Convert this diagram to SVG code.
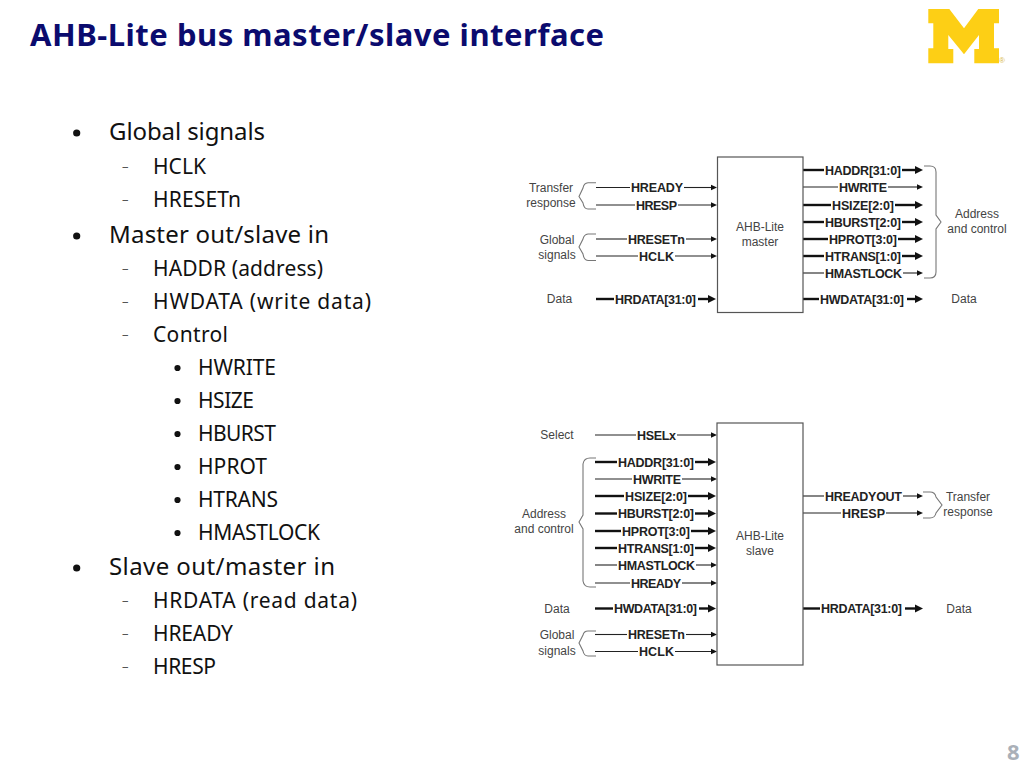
<svg xmlns="http://www.w3.org/2000/svg" width="1024" height="768" viewBox="0 0 1024 768">
<style>
.title{font:bold 31px "Noto Sans","DejaVu Sans",sans-serif;fill:#0b0b6e}
.l1{font:24px "Noto Sans","DejaVu Sans",sans-serif;fill:#111}
.l2{font:21px "Noto Sans","DejaVu Sans",sans-serif;fill:#111}
.dash{font:13px "Noto Sans",sans-serif;fill:#555}
.sig{font:bold 12.5px "Liberation Sans",Arial,sans-serif;fill:#222;text-anchor:middle}
.side{font:12px "Liberation Sans",Arial,sans-serif;fill:#444;text-anchor:middle}
.thin{stroke:#222;stroke-width:1.1;fill:none}
.thick{stroke:#111;stroke-width:2.4;fill:none}
.brace{stroke:#777;stroke-width:1.1;fill:none}
.box{fill:#fff;stroke:#555;stroke-width:1.2}
.thin.a{marker-end:url(#hs)}
.thick.a{marker-end:url(#hb)}
.pg{font:bold 22px "Noto Sans",sans-serif;fill:#aab0b8}
.b1{fill:#111}
</style>
<defs>
<marker id="hs" markerUnits="userSpaceOnUse" markerWidth="7" markerHeight="7" refX="0" refY="3.5" orient="auto"><path d="M0 .8L6 3.5L0 6.2Z" fill="#111"/></marker>
<marker id="hb" markerUnits="userSpaceOnUse" markerWidth="9" markerHeight="9" refX="0" refY="4.5" orient="auto"><path d="M0 .5L8 4.5L0 8.5Z" fill="#111"/></marker>
</defs>
<rect width="1024" height="768" fill="#fff"/>
<text class="title" x="30" y="46" textLength="574" lengthAdjust="spacing">AHB-Lite bus master/slave interface</text>
<g id="logo"><polygon fill="#fdcf15" points="928.3,9 949.3,9 964,28.3 978.3,9 999,9 999,23.3 994,23.3 994,48.3 999,48.3 999,63.3 974.3,63.3 974.3,49 979,49 979,35 964,54.3 948.3,35 948.3,49 953.3,49 953.3,63.3 928.3,63.3 928.3,48.3 933.3,48.3 933.3,23.3 928.3,23.3"/><text x="1002" y="63" text-anchor="middle" font-family="Liberation Sans, sans-serif" font-size="8" fill="#d9b84a">®</text></g>
<g id="bullets">
<circle class="b1" cx="76.700" cy="133" r="3.600"/><text class="l1" x="109" y="140" textLength="156">Global signals</text>
<text class="dash" x="122" y="170.500">–</text><text class="l2" x="153" y="174" textLength="53">HCLK</text>
<text class="dash" x="122" y="203.500">–</text><text class="l2" x="153" y="207" textLength="88">HRESETn</text>
<circle class="b1" cx="76.700" cy="236" r="3.600"/><text class="l1" x="109" y="243" textLength="220">Master out/slave in</text>
<text class="dash" x="122" y="272.500">–</text><text class="l2" x="153" y="276" textLength="170">HADDR (address)</text>
<text class="dash" x="122" y="305.500">–</text><text class="l2" x="153" y="309" textLength="218">HWDATA (write data)</text>
<text class="dash" x="122" y="338.500">–</text><text class="l2" x="153" y="342" textLength="75">Control</text>
<circle class="b1" cx="177.500" cy="368" r="3.100"/><text class="l2" x="198" y="375" textLength="78">HWRITE</text>
<circle class="b1" cx="177.500" cy="401" r="3.100"/><text class="l2" x="198" y="408" textLength="56">HSIZE</text>
<circle class="b1" cx="177.500" cy="434" r="3.100"/><text class="l2" x="198" y="441" textLength="78">HBURST</text>
<circle class="b1" cx="177.500" cy="467" r="3.100"/><text class="l2" x="198" y="474" textLength="69">HPROT</text>
<circle class="b1" cx="177.500" cy="500" r="3.100"/><text class="l2" x="198" y="507" textLength="80">HTRANS</text>
<circle class="b1" cx="177.500" cy="533" r="3.100"/><text class="l2" x="198" y="540" textLength="122">HMASTLOCK</text>
<circle class="b1" cx="76.700" cy="568" r="3.600"/><text class="l1" x="109" y="575" textLength="226">Slave out/master in</text>
<text class="dash" x="122" y="604.500">–</text><text class="l2" x="153" y="608" textLength="204">HRDATA (read data)</text>
<text class="dash" x="122" y="637.500">–</text><text class="l2" x="153" y="641" textLength="80">HREADY</text>
<text class="dash" x="122" y="670.500">–</text><text class="l2" x="153" y="674" textLength="63">HRESP</text>
</g>
<g id="connectors">
<path class="thin" d="M596 187.5H630"/><path class="thin a" d="M684 187.5H711"/>
<path class="thin" d="M596 205H635"/><path class="thin a" d="M678 205H711"/>
<path class="thin" d="M596 239H627"/><path class="thin a" d="M686 239H711"/>
<path class="thin" d="M596 256H638"/><path class="thin a" d="M675 256H711"/>
<path class="thick" d="M596 299H614"/><path class="thick a" d="M698 299H708"/>
<path class="thick" d="M803 170H824"/><path class="thick a" d="M902 170H915"/>
<path class="thin" d="M803 187H838"/><path class="thin a" d="M888 187H917"/>
<path class="thick" d="M803 205H831"/><path class="thick a" d="M895 205H915"/>
<path class="thick" d="M803 222H824"/><path class="thick a" d="M902 222H915"/>
<path class="thick" d="M803 239H828"/><path class="thick a" d="M898 239H915"/>
<path class="thick" d="M803 256H824"/><path class="thick a" d="M902 256H915"/>
<path class="thin" d="M803 273H824"/><path class="thin a" d="M903 273H917"/>
<path class="thick" d="M803 299H819"/><path class="thick a" d="M907 299H915"/>
<path class="thin" d="M595 435H636"/><path class="thin a" d="M677 435H711"/>
<path class="thick" d="M595 462H617"/><path class="thick a" d="M695 462H708"/>
<path class="thin" d="M595 479H632"/><path class="thin a" d="M682 479H711"/>
<path class="thick" d="M595 496H624"/><path class="thick a" d="M688 496H708"/>
<path class="thick" d="M595 513.5H617"/><path class="thick a" d="M695 513.5H708"/>
<path class="thick" d="M595 531H621"/><path class="thick a" d="M691 531H708"/>
<path class="thick" d="M595 548H617"/><path class="thick a" d="M695 548H708"/>
<path class="thin" d="M595 565H617"/><path class="thin a" d="M696 565H711"/>
<path class="thin" d="M595 583H630"/><path class="thin a" d="M682 583H711"/>
<path class="thick" d="M595 608.5H613"/><path class="thick a" d="M699 608.5H708"/>
<path class="thin" d="M595 634.5H627"/><path class="thin a" d="M686 634.5H711"/>
<path class="thin" d="M595 651.5H638"/><path class="thin a" d="M675 651.5H711"/>
<path class="thin" d="M803 496H824"/><path class="thin a" d="M903 496H917"/>
<path class="thin" d="M803 513H841"/><path class="thin a" d="M886 513H917"/>
<path class="thick" d="M803 608.5H820"/><path class="thick a" d="M905 608.5H915"/>
<path class="brace" d="M596 182.700H588Q584 183 583 188L579 196.500L583 203Q584 209 588 209H596"/>
<path class="brace" d="M596 234H588Q584 234.500 583 239L579 247L583 254Q584 260.500 588 260.500H596"/>
<path class="brace" d="M924 166H930Q936 166 936 172V215L941 222L936 229V272Q936 278 930 278H924"/>
<path class="brace" d="M596 458H590Q584 458 583 464V515L579 522L583 529V581Q584 587 590 587H596"/>
<path class="brace" d="M596 631H588Q584 631 583 635L579 643L583 651Q584 656 588 656H596"/>
<path class="brace" d="M923 492H930Q935 492 936 497L942 505L936 513Q935 518 930 518H923"/>
</g>
<g id="master"><rect class="box" x="717.5" y="157" width="85.500" height="155.500"/><text class="side" x="760" y="231">AHB-Lite</text><text class="side" x="760" y="246">master</text></g>
<g id="slave"><rect class="box" x="717" y="423" width="86" height="242"/><text class="side" x="760" y="540">AHB-Lite</text><text class="side" x="760" y="555">slave</text></g>
<g id="master-labels">
<text class="sig" x="657" y="192" textLength="52">HREADY</text>
<text class="sig" x="656.500" y="209.500" textLength="41">HRESP</text>
<text class="sig" x="656.500" y="243.500" textLength="57">HRESETn</text>
<text class="sig" x="656.500" y="260.500" textLength="35">HCLK</text>
<text class="sig" x="655.500" y="303.500" textLength="81">HRDATA[31:0]</text>
<text class="sig" x="863" y="174.500" textLength="76">HADDR[31:0]</text>
<text class="sig" x="863" y="191.500" textLength="48">HWRITE</text>
<text class="sig" x="863" y="209.500" textLength="62">HSIZE[2:0]</text>
<text class="sig" x="863" y="226.500" textLength="76">HBURST[2:0]</text>
<text class="sig" x="863" y="243.500" textLength="68">HPROT[3:0]</text>
<text class="sig" x="863" y="260.500" textLength="76">HTRANS[1:0]</text>
<text class="sig" x="863.500" y="277.500" textLength="77">HMASTLOCK</text>
<text class="sig" x="862" y="303.500" textLength="84">HWDATA[31:0]</text>
<text class="side" x="551" y="192">Transfer</text><text class="side" x="551" y="207">response</text>
<text class="side" x="557" y="244">Global</text><text class="side" x="557" y="259">signals</text>
<text class="side" x="559.500" y="303">Data</text>
<text class="side" x="977" y="218">Address</text><text class="side" x="977" y="233">and control</text>
<text class="side" x="964" y="303">Data</text>
</g>
<g id="slave-labels">
<text class="sig" x="656.500" y="439.500" textLength="39">HSELx</text>
<text class="sig" x="656" y="466.500" textLength="76">HADDR[31:0]</text>
<text class="sig" x="657" y="483.500" textLength="48">HWRITE</text>
<text class="sig" x="656" y="500.500" textLength="62">HSIZE[2:0]</text>
<text class="sig" x="656" y="518" textLength="76">HBURST[2:0]</text>
<text class="sig" x="656" y="535.500" textLength="68">HPROT[3:0]</text>
<text class="sig" x="656" y="552.500" textLength="76">HTRANS[1:0]</text>
<text class="sig" x="656.500" y="569.500" textLength="77">HMASTLOCK</text>
<text class="sig" x="656" y="587.500" textLength="50">HREADY</text>
<text class="sig" x="655.500" y="613" textLength="83">HWDATA[31:0]</text>
<text class="sig" x="656.500" y="639" textLength="57">HRESETn</text>
<text class="sig" x="656.500" y="656" textLength="35">HCLK</text>
<text class="sig" x="863.500" y="500.500" textLength="77">HREADYOUT</text>
<text class="sig" x="863.500" y="517.500" textLength="43">HRESP</text>
<text class="sig" x="861.500" y="613" textLength="81">HRDATA[31:0]</text>
<text class="side" x="557" y="439">Select</text>
<text class="side" x="544" y="518">Address</text><text class="side" x="544" y="533">and control</text>
<text class="side" x="557" y="612.500">Data</text>
<text class="side" x="557" y="639">Global</text><text class="side" x="557" y="655">signals</text>
<text class="side" x="968" y="501">Transfer</text><text class="side" x="968" y="516">response</text>
<text class="side" x="959" y="612.500">Data</text>
</g>
<text class="pg" x="1007" y="760">8</text>
</svg>
